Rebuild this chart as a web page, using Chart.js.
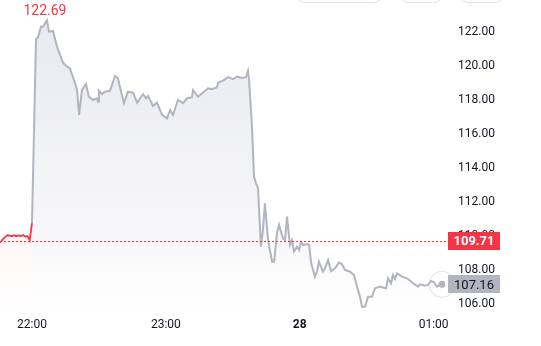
<!DOCTYPE html>
<html>
<head>
<meta charset="utf-8">
<script src="https://cdn.jsdelivr.net/npm/chart.js@4.4.1/dist/chart.umd.min.js"></script>
<style>
  body { margin: 0; background: #fff; overflow: hidden; font-family: Roboto, Arial, sans-serif; }
  #wrap { position: relative; width: 541px; height: 346px; overflow: hidden; }
  .btn { position: absolute; top: -30px; height: 31px; border: 1px solid #e1e1e8; border-radius: 9px; background: #fff; }
</style>
</head>
<body>
<div id="wrap">
  <canvas id="c" width="541" height="346"></canvas>
  <div class="btn" style="left:296px;width:85px"></div>
  <div class="btn" style="left:399px;width:42px"></div>
  <div class="btn" style="left:460px;width:42px"></div>
</div>
<script>
// Intraday price, minutes relative to 22:00.
// Red part = before the open, gray part = the session.
const preTimes  = [-15, -14, -13, -12, -11, -10, -9, -8, -7, -6, -5, -4, -3, -2, -1, 0];
const prePrices = [109.62, 109.66, 109.82, 109.95, 110.04, 110.02, 109.98, 110.05,
                   109.99, 110.03, 110.00, 110.06, 109.96, 110.00, 109.76, 110.76];

const sessionTimes = [
  0, 1.8, 2.7, 4.0, 4.9, 6.7, 7.6, 9.4, 11.2, 13.9, 15.7, 17.0, 18.8, 20.2, 21.1, 22.4,
  24.2, 25.5, 27.3, 29.1, 29.6, 30.0, 31.4, 32.7, 35.0, 37.2, 38.5, 41.2, 43.0, 45.3,
  47.1, 49.8, 51.1, 52.0, 54.2, 56.0, 58.3, 60.5, 61.9, 63.2, 65.4, 67.7, 69.5, 71.7,
  72.2, 74.4, 76.6, 78.9, 80.7, 82.9, 83.4, 85.6, 87.9, 90.1, 91.9, 94.1, 95.9, 96.8,
  97.3, 98.6, 99.5, 100.4, 101.3, 102.6, 103.5, 104.4, 105.8, 107.6, 108.5, 109.8, 110.7,
  112.5, 113.4, 114.3, 115.6, 116.5, 117.4, 118.8, 119.7, 120.6, 121.5, 123.3, 124.2,
  125.1, 126.8, 127.7, 128.6, 130.4, 131.3, 132.7, 134.0, 135.8, 137.6, 138.9, 140.3,
  142.5, 144.3, 145.7, 147.0, 147.9, 149.3, 150.6, 152.4, 153.7, 156.0, 158.7, 159.6,
  160.9, 161.8, 162.7, 163.6, 165.8, 168.1, 170.8, 173.0, 173.9, 176.2, 177.5, 178.8,
  180.2, 181.5, 182.9, 183.8,
];
const sessionPrices = [
  110.76, 121.57, 121.69, 122.31, 122.31, 122.69, 122.02, 122.06, 121.14, 120.19, 119.96,
  119.86, 119.18, 118.59, 117.12, 118.59, 118.94, 118.19, 118.00, 118.10, 117.90, 118.55,
  118.35, 118.49, 118.55, 119.41, 119.28, 117.81, 118.49, 118.43, 117.84, 118.34, 118.10,
  118.24, 117.65, 117.84, 117.12, 116.92, 117.41, 117.12, 118.00, 117.81, 118.10, 118.16,
  118.59, 118.19, 118.43, 118.69, 118.63, 118.75, 119.02, 119.14, 119.34, 119.22, 119.37,
  119.29, 119.34, 119.72, 119.18, 116.43, 113.49, 113.10, 112.81, 109.37, 110.35, 111.92,
  109.76, 108.49, 108.49, 110.16, 110.65, 109.86, 109.76, 111.14, 109.47, 109.76, 109.08,
  109.37, 109.18, 109.66, 109.47, 109.53, 109.47, 108.41, 107.61, 107.90, 108.49, 107.90,
  108.10, 108.59, 107.94, 108.10, 108.45, 108.34, 108.00, 107.90, 107.71, 107.02, 106.43,
  105.84, 105.84, 106.43, 106.43, 106.92, 107.02, 106.92, 107.51, 107.22, 107.71, 107.47,
  107.81, 107.61, 107.51, 107.22, 107.02, 107.16, 107.08, 107.12, 107.35, 107.28, 107.02,
  107.12, 107.16,
];

const prevClose = 109.71;
const lastPrice = 107.16;

const priceTicks  = [106, 108, 110, 112, 114, 116, 118, 120, 122];
const tickMinutes = [0, 60, 120, 180];
const tickLabels  = ['22:00', '23:00', '28', '01:00'];

const RED = '#f23645';
const GRAY = '#b2b5be';
const FONT = 'Roboto, Arial, sans-serif';

function zip(xs, ys) {
  return xs.map((x, i) => ({ x, y: ys[i] }));
}

// vertical fade from the top of the plot to its bottom
function fade(rgb, a0) {
  return ctx => {
    const area = ctx.chart.chartArea;
    if (!area) return 'transparent';
    const g = ctx.chart.ctx.createLinearGradient(0, area.top, 0, area.bottom);
    g.addColorStop(0, `rgba(${rgb},${a0})`);
    g.addColorStop(0.75, `rgba(${rgb},${a0 * 0.35})`);
    g.addColorStop(1, `rgba(${rgb},0)`);
    return g;
  };
}

// drop the label overhang padding so the plot uses the full canvas
function noPad(s) {
  s.paddingTop = 0;
  s.paddingBottom = 0;
  s.paddingLeft = 0;
  s.paddingRight = 0;
}

function priceBox(ctx, x, y, text, bg, fg, bold) {
  const w = 52, h = 18;
  ctx.fillStyle = bg;
  ctx.fillRect(x, Math.round(y - h / 2), w, h);
  ctx.fillStyle = fg;
  ctx.font = `${bold ? 'bold ' : ''}13px ${FONT}`;
  ctx.textAlign = 'center';
  ctx.textBaseline = 'middle';
  ctx.fillText(text, x + w / 2, y + 1);
}

const overlay = {
  id: 'overlay',
  afterDatasetsDraw(chart) {
    const { ctx, chartArea, scales: { x, y } } = chart;
    ctx.save();

    // previous close dotted line
    const yc = Math.round(y.getPixelForValue(prevClose)) + 0.5;
    ctx.strokeStyle = RED;
    ctx.lineWidth = 1;
    ctx.setLineDash([2, 2]);
    ctx.beginPath();
    ctx.moveTo(chartArea.left, yc);
    ctx.lineTo(chartArea.right + 3, yc);
    ctx.stroke();
    ctx.setLineDash([]);

    // ring around the last point
    const n = sessionTimes.length - 1;
    const lx = x.getPixelForValue(sessionTimes[n]);
    const ly = y.getPixelForValue(sessionPrices[n]);
    ctx.strokeStyle = 'rgba(190,192,202,0.45)';
    ctx.beginPath();
    ctx.arc(lx, ly, 13, 0, Math.PI * 2);
    ctx.stroke();

    // session high label
    let hi = 0;
    sessionPrices.forEach((p, i) => { if (p > sessionPrices[hi]) hi = i; });
    ctx.fillStyle = RED;
    ctx.font = `14px ${FONT}`;
    ctx.textAlign = 'center';
    ctx.textBaseline = 'bottom';
    ctx.fillText(sessionPrices[hi].toFixed(2),
      x.getPixelForValue(sessionTimes[hi]) - 2,
      y.getPixelForValue(sessionPrices[hi]) - 2);

    ctx.restore();
  },
  afterDraw(chart) {
    const { ctx, chartArea, scales: { y } } = chart;
    ctx.save();
    const bx = chartArea.right + 3;
    priceBox(ctx, bx, y.getPixelForValue(prevClose), prevClose.toFixed(2), RED, '#fff', true);
    priceBox(ctx, bx, y.getPixelForValue(lastPrice), lastPrice.toFixed(2), GRAY, '#131722', false);
    ctx.restore();
  },
};

const lastIdx = sessionTimes.length - 1;

new Chart(document.getElementById('c'), {
  type: 'line',
  data: {
    datasets: [
      {
        data: zip(preTimes, prePrices),
        borderColor: RED,
        borderWidth: 1.8,
        pointRadius: 0,
        tension: 0,
        fill: 'start',
        backgroundColor: fade('242,54,69', 0.13),
      },
      {
        data: zip(sessionTimes, sessionPrices),
        borderColor: GRAY,
        borderWidth: 2,
        pointRadius: sessionTimes.map((_, i) => (i === lastIdx ? 3.5 : 0)),
        pointBackgroundColor: GRAY,
        pointBorderWidth: 0,
        tension: 0,
        fill: 'start',
        backgroundColor: fade('178,181,196', 0.3),
      },
    ],
  },
  options: {
    responsive: false,
    animation: false,
    events: [],
    layout: { padding: 0, autoPadding: false },
    plugins: { legend: { display: false }, tooltip: { enabled: false } },
    scales: {
      x: {
        type: 'linear',
        min: -14.34,
        max: 185.1,
        grid: { display: false, drawTicks: false },
        border: { display: false },
        afterFit: s => { s.height = 34; noPad(s); },
        afterBuildTicks: s => { s.ticks = tickMinutes.map(v => ({ value: v })); },
        ticks: {
          padding: 6,
          maxRotation: 0,
          autoSkip: false,
          color: '#131722',
          font: c => ({ family: FONT, size: 12, weight: c.tick && c.tick.value === 120 ? 'bold' : 'normal' }),
          callback: v => tickLabels[tickMinutes.indexOf(v)],
        },
      },
      y: {
        position: 'right',
        min: 105.53,
        max: 123.88,
        grid: { display: false, drawTicks: false },
        border: { display: false },
        afterFit: s => { s.width = 96; noPad(s); },
        afterBuildTicks: s => { s.ticks = priceTicks.map(v => ({ value: v })); },
        ticks: {
          padding: 13,
          color: '#131722',
          font: { family: FONT, size: 12 },
          callback: v => v.toFixed(2),
        },
      },
    },
  },
  plugins: [overlay],
});
</script>
</body>
</html>
